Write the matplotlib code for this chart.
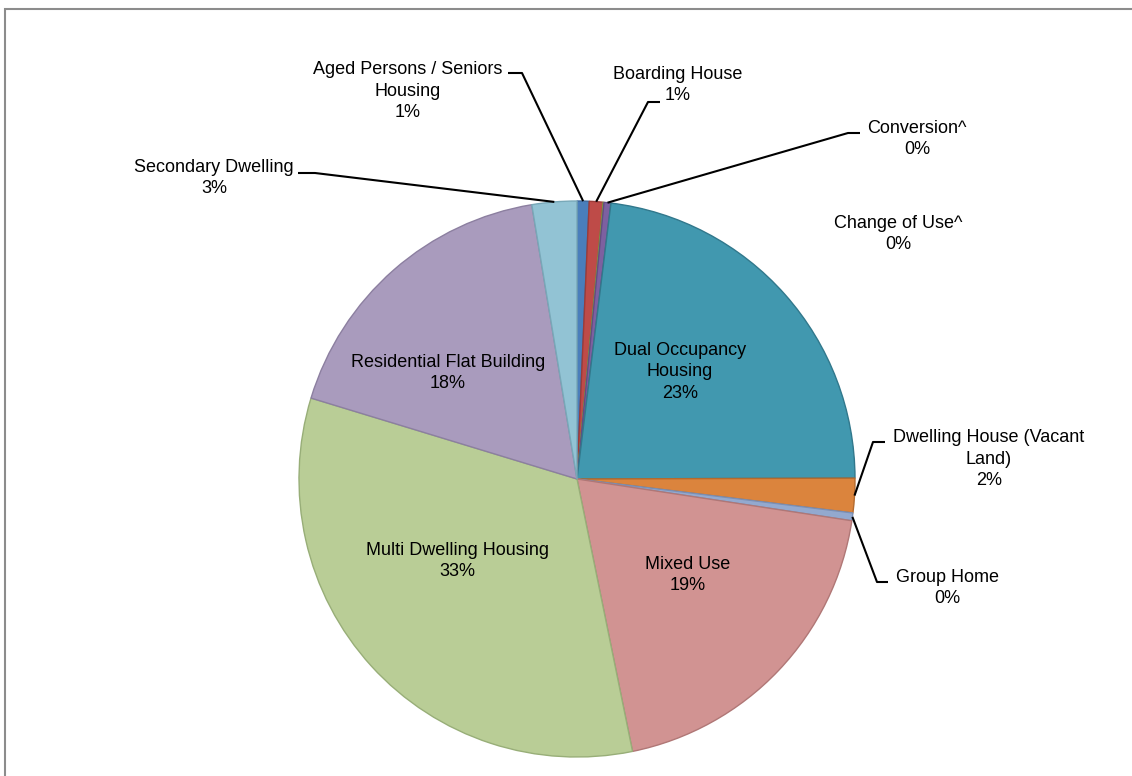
import matplotlib
matplotlib.use("Agg")
import matplotlib.pyplot as plt
import numpy as np
from matplotlib.patches import Rectangle

# Dwelling types (alphabetical, as plotted clockwise from 12 o'clock)
categories = [
    "Aged Persons / Seniors\nHousing",
    "Boarding House",
    "Change of Use^",
    "Conversion^",
    "Dual Occupancy\nHousing",
    "Dwelling House (Vacant\nLand)",
    "Group Home",
    "Mixed Use",
    "Multi Dwelling Housing",
    "Residential Flat Building",
    "Secondary Dwelling",
]
shares = [0.7, 0.8, 0.05, 0.4, 23.0, 2.0, 0.45, 19.4, 32.9, 17.7, 2.6]

fill_colors = ["#4A7EBB", "#BE4B48", "#98B954", "#7D60A0", "#4198AF", "#DB843D",
               "#93A9CF", "#D19392", "#B9CD96", "#A99BBD", "#92C3D4"]
edge_colors = ["#3A669C", "#9C3B39", "#7A9A40", "#634C82", "#31788C", "#B36A2E",
               "#7A8FB5", "#B07776", "#98AE78", "#8C7FA0", "#78A8B8"]

W, H = 1132, 776
fig = plt.figure(figsize=(W / 100, H / 100), dpi=100)
ax = fig.add_axes([0, 0, 1, 1])

def py(y):
    """Convert a top-origin pixel row to the axes' y-up coordinate."""
    return H - y

cx, cy, R = 577, py(479), 278
wedges, _ = ax.pie(shares, colors=fill_colors, startangle=90, counterclock=False,
                   center=(cx, cy), radius=R, frame=True,
                   wedgeprops=dict(linewidth=1.0))
for w, ec in zip(wedges, edge_colors):
    w.set_edgecolor(ec)

ax.set_xlim(0, W)
ax.set_ylim(0, H)
ax.axis("off")

total = sum(shares)
font = dict(family=["Liberation Sans", "DejaVu Sans"], fontsize=13, color="black")
LS = 1.35

def label_text(i):
    return f"{categories[i]}\n{round(shares[i] / total * 100):.0f}%"

def edge_point(i):
    w = wedges[i]
    ang = np.deg2rad((w.theta1 + w.theta2) / 2)
    return cx + R * np.cos(ang), cy + R * np.sin(ang)

# Labels inside the large slices: (index, x, y of block centre)
inside = [(4, 680, 372), (7, 688, 575), (8, 457, 561), (9, 448, 373)]
for i, x, y in inside:
    ax.text(x, py(y), label_text(i), ha="center", va="center",
            multialignment="center", linespacing=LS, **font)

# Outside labels: (index, text centre x, y, leader start, leader elbow)
outside = [
    (0, 408, 91, (508, 73), (522, 73)),
    (1, 678, 85, (660, 102), (648, 102)),
    (3, 917, 139, (860, 133), (848, 133)),
    (5, 989, 459, (885, 442), (873, 442)),
    (6, 947, 588, (888, 582), (877, 582)),
    (10, 214, 178, (298, 173), (315, 173)),
]
for i, x, y, p0, p1 in outside:
    ax.text(x, py(y), label_text(i), ha="center", va="center",
            multialignment="center", linespacing=LS, **font)
    ex, ey = edge_point(i)
    ax.plot([p0[0], p1[0], ex], [py(p0[1]), py(p1[1]), ey],
            color="black", lw=1.5, solid_capstyle="butt")

# Zero-value slice labelled without a leader line
ax.text(898, py(234), label_text(2), ha="center", va="center",
        multialignment="center", linespacing=LS, **font)

# Chart area border
ax.add_patch(Rectangle((4.5, -10), W + 20, py(8.5) + 10, fill=False,
                       edgecolor="#8C8C8C", lw=1.5, clip_on=False))

fig.savefig("out.png", dpi=100)
